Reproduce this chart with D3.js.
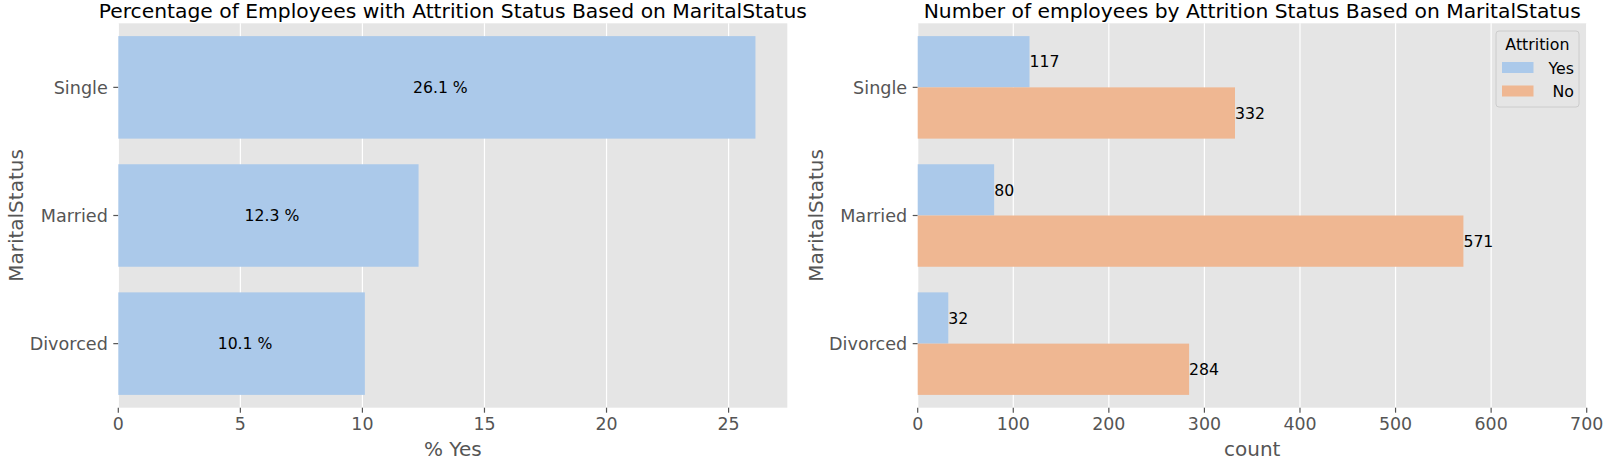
<!DOCTYPE html>
<html>
<head>
<meta charset="utf-8">
<script src="https://cdn.jsdelivr.net/npm/d3@7"></script>
<style>
  body { margin: 0; background: #fff; }
  svg { font-family: "DejaVu Sans", sans-serif; }
</style>
</head>
<body>
<svg id="chart" width="1607" height="468"></svg>
<script>
// data
var categories = ["Single", "Married", "Divorced"];
var pctYes = [26.1, 12.3, 10.1];
var hues = ["Yes", "No"];
var countYes = [117, 80, 32];
var countNo = [332, 571, 284];
var countTicks = [0, 100, 200, 300, 400, 500, 600, 700];
var pctTicks = [0, 5, 10, 15, 20, 25];

var svg = d3.select("#chart");
var plotTop = 23.3, plotBottom = 407.7;
var hueColor = d3.scaleOrdinal().domain(hues).range(["#abc9ea", "#efb792"]);

var yScale = d3.scaleBand().domain(categories).range([plotTop, plotBottom]);

function panel(x0, x1, xScale, ticks, title, xlabel) {
    var g = svg.append("g");
    g.append("rect")
        .attr("x", x0).attr("y", plotTop)
        .attr("width", x1 - x0).attr("height", plotBottom - plotTop)
        .attr("fill", "#e5e5e5");

    // vertical grid lines
    g.selectAll(".grid").data(ticks).enter().append("line")
        .attr("x1", d => xScale(d)).attr("x2", d => xScale(d))
        .attr("y1", plotTop).attr("y2", plotBottom)
        .attr("stroke", "#ffffff").attr("stroke-width", 1.2);

    // x ticks
    g.selectAll(".xt").data(ticks).enter().append("line")
        .attr("x1", d => xScale(d)).attr("x2", d => xScale(d))
        .attr("y1", plotBottom).attr("y2", plotBottom + 5)
        .attr("stroke", "#555555").attr("stroke-width", 1.2);
    g.selectAll(".xl").data(ticks).enter().append("text")
        .attr("x", d => xScale(d)).attr("y", 430)
        .attr("text-anchor", "middle")
        .attr("font-size", "17.4px").attr("fill", "#555555")
        .text(d => d);

    // y ticks
    g.selectAll(".yt").data(categories).enter().append("line")
        .attr("x1", x0 - 5).attr("x2", x0)
        .attr("y1", d => yScale(d) + yScale.bandwidth() / 2)
        .attr("y2", d => yScale(d) + yScale.bandwidth() / 2)
        .attr("stroke", "#555555").attr("stroke-width", 1.2);
    g.selectAll(".yl").data(categories).enter().append("text")
        .attr("x", x0 - 10.5)
        .attr("y", d => yScale(d) + yScale.bandwidth() / 2 + 6.3)
        .attr("text-anchor", "end")
        .attr("font-size", "17.6px").attr("fill", "#555555")
        .text(d => d);

    g.append("text")
        .attr("x", (x0 + x1) / 2).attr("y", 18)
        .attr("text-anchor", "middle")
        .attr("font-size", "20.3px").attr("fill", "#000")
        .text(title);

    g.append("text")
        .attr("x", (x0 + x1) / 2).attr("y", 456)
        .attr("text-anchor", "middle")
        .attr("font-size", "20px").attr("fill", "#555555")
        .text(xlabel);

    g.append("text")
        .attr("transform", "translate(" + (x0 - 95) + "," + ((plotTop + plotBottom) / 2) + ") rotate(-90)")
        .attr("text-anchor", "middle")
        .attr("font-size", "20px").attr("fill", "#555555")
        .text("MaritalStatus");
    return g;
}

// left panel: percentage of Yes
var xLeft = d3.scaleLinear().domain([0, d3.max(pctYes) * 1.05]).range([118.3, 787.3]);
var left = panel(118.3, 787.3, xLeft, pctTicks,
    "Percentage of Employees with Attrition Status Based on MaritalStatus", "% Yes");

var barW = yScale.bandwidth() * 0.8;
left.selectAll(".bar").data(pctYes).enter().append("rect")
    .attr("x", xLeft(0))
    .attr("y", (d, i) => yScale(categories[i]) + yScale.bandwidth() * 0.1)
    .attr("width", d => xLeft(d) - xLeft(0))
    .attr("height", barW)
    .attr("fill", hueColor("Yes"));
left.selectAll(".ann").data(pctYes).enter().append("text")
    .attr("x", d => xLeft(d / 2))
    .attr("dx", 3.5)
    .attr("y", (d, i) => yScale(categories[i]) + yScale.bandwidth() / 2 + 5.7)
    .attr("text-anchor", "middle")
    .attr("font-size", "15.7px").attr("fill", "#000")
    .text(d => d.toFixed(1) + " %");

// right panel: counts by hue
var xRight = d3.scaleLinear().domain([0, 700]).range([917.7, 1586.7]);
var right = panel(917.7, 1586.7, xRight, countTicks,
    "Number of employees by Attrition Status Based on MaritalStatus", "count");

var sub = d3.scaleBand().domain(hues).range([0, barW]);
var series = [countYes, countNo];
series.forEach(function(vals, h) {
    var hue = hues[h];
    right.selectAll(".bar" + hue).data(vals).enter().append("rect")
        .attr("x", xRight(0))
        .attr("y", (d, i) => yScale(categories[i]) + yScale.bandwidth() * 0.1 + sub(hue))
        .attr("width", d => xRight(d) - xRight(0))
        .attr("height", sub.bandwidth())
        .attr("fill", hueColor(hue));
    right.selectAll(".ann" + hue).data(vals).enter().append("text")
        .attr("x", d => xRight(d))
        .attr("y", (d, i) => yScale(categories[i]) + yScale.bandwidth() * 0.1 + sub(hue) + sub.bandwidth() / 2 + 5.7)
        .attr("font-size", "15.7px").attr("fill", "#000")
        .text(d => d);
});

// legend
var legend = right.append("g");
legend.append("rect")
    .attr("x", 1496).attr("y", 31)
    .attr("width", 83).attr("height", 76)
    .attr("rx", 3)
    .attr("fill", "#e5e5e5").attr("fill-opacity", 0.8)
    .attr("stroke", "#cccccc").attr("stroke-width", 1);
legend.append("text")
    .attr("x", 1537.4).attr("y", 50)
    .attr("text-anchor", "middle")
    .attr("font-size", "15.8px").attr("fill", "#000")
    .text("Attrition");
hues.forEach(function(h, i) {
    legend.append("rect")
        .attr("x", 1502).attr("y", 62 + i * 23.5)
        .attr("width", 31.5).attr("height", 11)
        .attr("fill", hueColor(h));
    legend.append("text")
        .attr("x", 1574).attr("y", 73.5 + i * 23)
        .attr("text-anchor", "end")
        .attr("font-size", "15.8px").attr("fill", "#000")
        .text(h);
});
</script>
</body>
</html>
